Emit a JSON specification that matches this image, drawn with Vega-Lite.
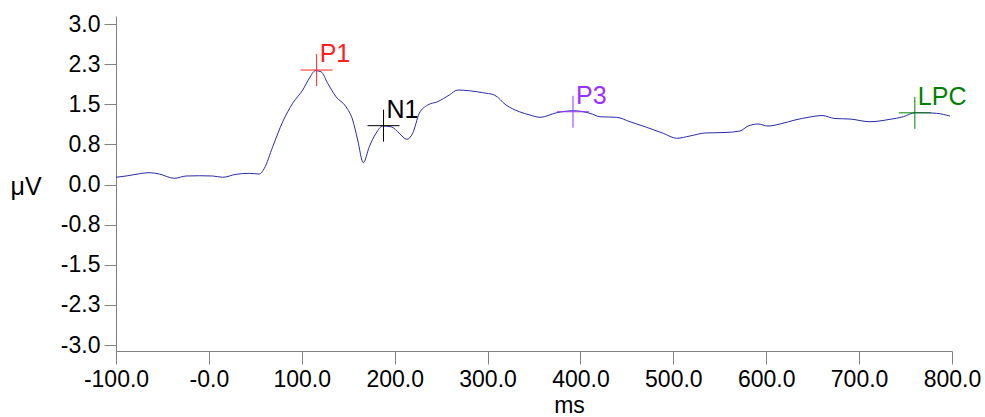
{
  "$schema": "https://vega.github.io/schema/vega-lite/v6.json",
  "width": 836,
  "height": 335,
  "autosize": {"type": "none"},
  "padding": {"left": 116, "top": 16, "right": 33, "bottom": 66},
  "background": "white",
  "config": {
    "view": {"stroke": null},
    "font": "Liberation Sans",
    "axis": {"grid": false, "domainColor": "#808080", "tickColor": "#808080", "domainWidth": 1, "tickWidth": 1, "labelColor": "#000000", "titleColor": "#000000", "labelFont": "Liberation Sans", "titleFont": "Liberation Sans", "titleFontWeight": "normal"}
  },
  "datasets": {
    "erp": [
      {"t": -100, "v": 0.135}, {"t": -89.2, "v": 0.159}, {"t": -78.5, "v": 0.191}, {"t": -64.2, "v": 0.221},
      {"t": -53.4, "v": 0.196}, {"t": -37.2, "v": 0.116}, {"t": -24.6, "v": 0.159}, {"t": -10.3, "v": 0.164},
      {"t": 4.1, "v": 0.159}, {"t": 14.9, "v": 0.135}, {"t": 29.2, "v": 0.191}, {"t": 43.5, "v": 0.209},
      {"t": 54.3, "v": 0.196}, {"t": 59.7, "v": 0.303}, {"t": 68.7, "v": 0.707}, {"t": 79.5, "v": 1.174},
      {"t": 90.2, "v": 1.518}, {"t": 101.0, "v": 1.766}, {"t": 108.1, "v": 1.985}, {"t": 114.6, "v": 2.127},
      {"t": 120.7, "v": 2.108}, {"t": 127.9, "v": 1.892}, {"t": 136.8, "v": 1.641}, {"t": 147.6, "v": 1.454},
      {"t": 154.8, "v": 1.206}, {"t": 160.2, "v": 0.832}, {"t": 166.2, "v": 0.407}, {"t": 172.7, "v": 0.707},
      {"t": 179.9, "v": 0.957}, {"t": 187.1, "v": 1.093}, {"t": 196.1, "v": 1.08}, {"t": 205.0, "v": 0.957},
      {"t": 213.0, "v": 0.845}, {"t": 219.4, "v": 0.957}, {"t": 226.5, "v": 1.331}, {"t": 235.6, "v": 1.486},
      {"t": 246.3, "v": 1.548}, {"t": 258.8, "v": 1.673}, {"t": 267.9, "v": 1.766}, {"t": 280.4, "v": 1.753},
      {"t": 294.8, "v": 1.716}, {"t": 307.3, "v": 1.673}, {"t": 319.9, "v": 1.486}, {"t": 334.2, "v": 1.361},
      {"t": 345.7, "v": 1.299}, {"t": 356.5, "v": 1.256}, {"t": 374.4, "v": 1.342}, {"t": 392.3, "v": 1.379},
      {"t": 410.3, "v": 1.331}, {"t": 421.0, "v": 1.267}, {"t": 439.0, "v": 1.256}, {"t": 453.3, "v": 1.174},
      {"t": 471.3, "v": 1.069}, {"t": 489.2, "v": 0.957}, {"t": 503.6, "v": 0.864}, {"t": 517.9, "v": 0.907},
      {"t": 534.1, "v": 0.963}, {"t": 555.6, "v": 0.972}, {"t": 571.8, "v": 1.0}, {"t": 580.4, "v": 1.093},
      {"t": 591.2, "v": 1.131}, {"t": 601.9, "v": 1.093}, {"t": 614.8, "v": 1.131}, {"t": 631.0, "v": 1.206},
      {"t": 647.1, "v": 1.262}, {"t": 660.0, "v": 1.29}, {"t": 674.0, "v": 1.234}, {"t": 690.2, "v": 1.224},
      {"t": 711.7, "v": 1.174}, {"t": 733.3, "v": 1.219}, {"t": 747.6, "v": 1.267}, {"t": 760.2, "v": 1.342},
      {"t": 769.1, "v": 1.342}, {"t": 783.5, "v": 1.331}, {"t": 797.8, "v": 1.28}
    ],
    "peaks": [
      {"t": 116, "v": 2.14, "label": "P1"},
      {"t": 188, "v": 1.10, "label": "N1"},
      {"t": 392, "v": 1.36, "label": "P3"},
      {"t": 760, "v": 1.34, "label": "LPC"}
    ]
  },
  "layer": [
    {
      "data": {"name": "erp"},
      "mark": {"type": "line", "color": "#2a2aa5", "strokeWidth": 1, "interpolate": "monotone"},
      "encoding": {
        "x": {
          "field": "t", "type": "quantitative",
          "scale": {"domain": [-100, 800], "nice": false, "zero": false},
          "axis": {
            "values": [-100, 0, 100, 200, 300, 400, 500, 600, 700, 800],
            "labelExpr": "datum.value == 0 ? '-0.0' : replace(format(datum.value, '.1f'), '\u2212', '-')",
            "tickSize": 13, "labelPadding": 22, "labelBaseline": "alphabetic",
            "labelFontSize": 23, "labelFlush": false, "labelOverlap": false, "labelBound": false,
            "title": "ms", "titleFontSize": 23, "titleX": 453, "titleY": 61, "titleBaseline": "alphabetic", "titleAlign": "center"
          }
        },
        "y": {
          "field": "v", "type": "quantitative",
          "scale": {"domain": [-3.112, 3.15], "nice": false, "zero": false},
          "axis": {
            "values": [-3, -2.25, -1.5, -0.75, 0, 0.75, 1.5, 2.25, 3],
            "labelExpr": "replace(format(datum.value, '.1f'), '\u2212', '-')",
            "tickSize": 12, "labelPadding": 4, "labelFontSize": 23, "labelBaseline": "middle",
            "labelOverlap": false, "labelBound": false, "labelFlush": false,
            "title": "μV", "titleFontSize": 25, "titleAngle": 0, "titleX": -106, "titleY": 178,
            "titleAlign": "left", "titleBaseline": "alphabetic"
          }
        }
      }
    },
    {
      "mark": {"type": "rule", "color": "#808080", "strokeWidth": 1},
      "encoding": {"x": {"datum": -100}, "x2": {"datum": -87}, "y": {"datum": 3.15}}
    },
    {
      "mark": {"type": "rule", "color": "#808080", "strokeWidth": 1},
      "encoding": {"x": {"datum": 800}, "y": {"datum": -3.112}, "y2": {"datum": -2.9}}
    },
    {
      "data": {"name": "peaks"},
      "mark": {"type": "point", "shape": "M-1,0H1M0,-1V1", "filled": false, "size": 1024, "strokeWidth": 1, "opacity": 1},
      "encoding": {
        "x": {"field": "t", "type": "quantitative"},
        "y": {"field": "v", "type": "quantitative"},
        "color": {"field": "label", "type": "nominal", "scale": {"domain": ["P1", "N1", "P3", "LPC"], "range": ["#ff2020", "#000000", "#9b30ff", "#008000"]}, "legend": null}
      }
    },
    {
      "data": {"name": "peaks"},
      "mark": {"type": "text", "align": "left", "baseline": "alphabetic", "dx": 3, "dy": -8, "fontSize": 25, "font": "Liberation Sans"},
      "encoding": {
        "x": {"field": "t", "type": "quantitative"},
        "y": {"field": "v", "type": "quantitative"},
        "text": {"field": "label"},
        "color": {"field": "label", "type": "nominal", "scale": {"domain": ["P1", "N1", "P3", "LPC"], "range": ["#ff2020", "#000000", "#9b30ff", "#008000"]}, "legend": null}
      }
    }
  ]
}
